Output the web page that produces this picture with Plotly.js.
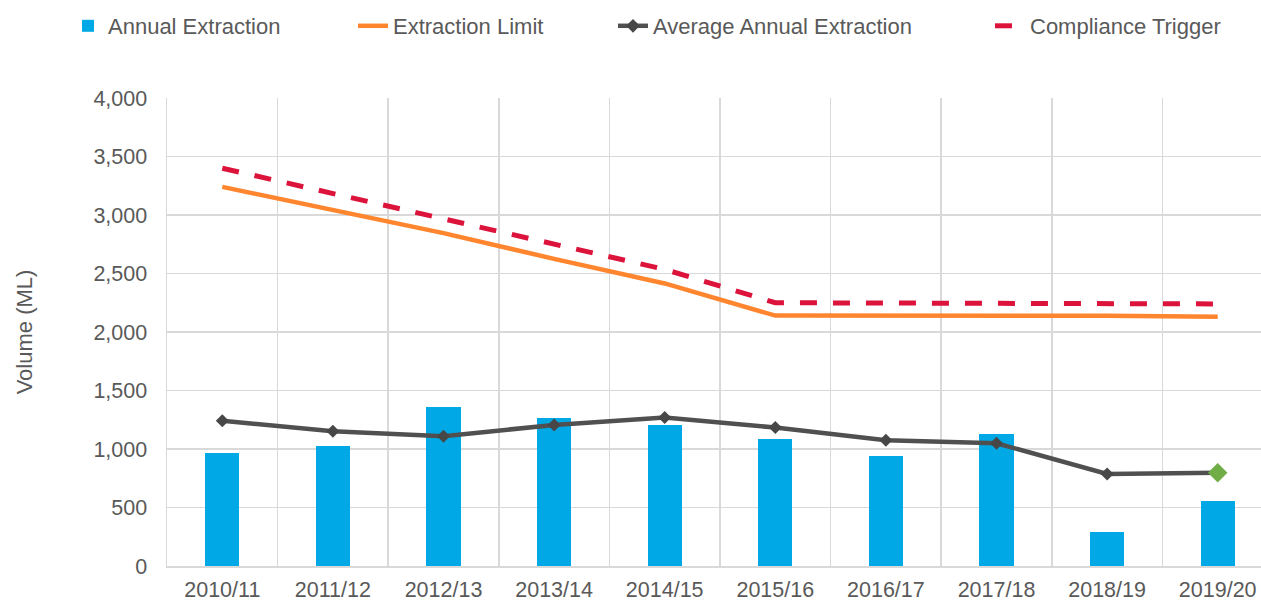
<!DOCTYPE html>
<html>
<head>
<meta charset="utf-8">
<script src="https://cdn.plot.ly/plotly-3.0.1.min.js"></script>
<style>
html, body { margin: 0; padding: 0; overflow: hidden; background: #ffffff; }
#chart { width: 1275px; height: 604px; }
</style>
</head>
<body>
<div id="chart"></div>
<script>
// ---- Data ----
const years = ["2010/11", "2011/12", "2012/13", "2013/14", "2014/15", "2015/16", "2016/17", "2017/18", "2018/19", "2019/20"];
const annualExtraction = [963, 1029, 1355, 1266, 1203, 1083, 943, 1126, 289, 552];
const extractionLimit = [3240, 3040, 2845, 2625, 2415, 2140, 2140, 2140, 2138, 2130];
const averageAnnualExtraction = [1241, 1152, 1109, 1206, 1269, 1183, 1074, 1049, 787, 797];
const complianceTrigger = [3400, 3185, 2970, 2750, 2535, 2250, 2250, 2250, 2250, 2240];
const yTickValues = [0, 500, 1000, 1500, 2000, 2500, 3000, 3500, 4000];

// ---- Styles ----
const FONT = "Liberation Sans, Arial, sans-serif";
const TEXT = "#595959";
const GRID = "#D9D9D9";

const plotLeft = 167, plotRight = 1273;
const plotW = plotRight - plotLeft;
function paperX(px) { return (px - plotLeft) / plotW; }

const lastIdx = averageAnnualExtraction.length - 1;
const avgMarkerColors = averageAnnualExtraction.map((v, i) => i === lastIdx ? "#70AD47" : "#474747");
const avgMarkerSizes = averageAnnualExtraction.map((v, i) => i === lastIdx ? 15 : 10);

const traces = [
  {
    type: "bar", name: "Annual Extraction", x: years, y: annualExtraction,
    width: 0.31, marker: { color: "#00A9E6", line: { width: 0 } }, legend: "legend"
  },
  {
    type: "scatter", mode: "lines", name: "Extraction Limit", x: years, y: extractionLimit,
    line: { color: "#FF862F", width: 4.5 }, legend: "legend2"
  },
  {
    type: "scatter", mode: "lines+markers", name: "Average Annual Extraction", x: years, y: averageAnnualExtraction,
    line: { color: "#505050", width: 4.5 },
    marker: { symbol: "diamond", color: avgMarkerColors, size: avgMarkerSizes, opacity: 1, line: { width: 0 } },
    legend: "legend3"
  },
  {
    type: "scatter", mode: "lines", name: "Compliance Trigger", x: years, y: complianceTrigger,
    line: { color: "#DC143C", width: 5, dash: "17px,16px" }, legend: "legend4"
  }
];

function legendAt(textStartPx) {
  return {
    orientation: "h", x: paperX(textStartPx - 40), xanchor: "left",
    y: (566 - 26) / 468, yanchor: "middle",
    font: { family: FONT, size: 22, color: TEXT },
    bgcolor: "rgba(0,0,0,0)", borderwidth: 0
  };
}

const layout = {
  width: 1275, height: 604,
  margin: { l: plotLeft, r: 1275 - plotRight, t: 98, b: 38, pad: 0 },
  paper_bgcolor: "#ffffff", plot_bgcolor: "#ffffff",
  font: { family: FONT, color: TEXT },
  showlegend: true,
  legend: legendAt(108),
  legend2: legendAt(393),
  legend3: legendAt(653),
  legend4: legendAt(1030),
  bargap: 0,
  xaxis: {
    type: "category", range: [-0.5, 9.5],
    tickson: "boundaries", ticks: "", showgrid: true, gridcolor: GRID, gridwidth: 1.5,
    showline: true, linecolor: GRID, linewidth: 1.5,
    ticklabelstandoff: 4,
    tickfont: { family: FONT, size: 21.5, color: TEXT },
    zeroline: false, fixedrange: true
  },
  yaxis: {
    range: [0, 4000], tickvals: yTickValues, tickformat: ",d",
    showgrid: true, gridcolor: GRID, gridwidth: 1.5,
    showline: true, linecolor: GRID, linewidth: 1.5,
    ticks: "", ticklabelstandoff: 14,
    tickfont: { family: FONT, size: 21.5, color: TEXT },
    title: { text: "Volume (ML)", font: { family: FONT, size: 22, color: TEXT }, standoff: 54 },
    zeroline: false, fixedrange: true
  }
};

Plotly.newPlot("chart", traces, layout, { displayModeBar: false, staticPlot: true });
</script>
</body>
</html>
